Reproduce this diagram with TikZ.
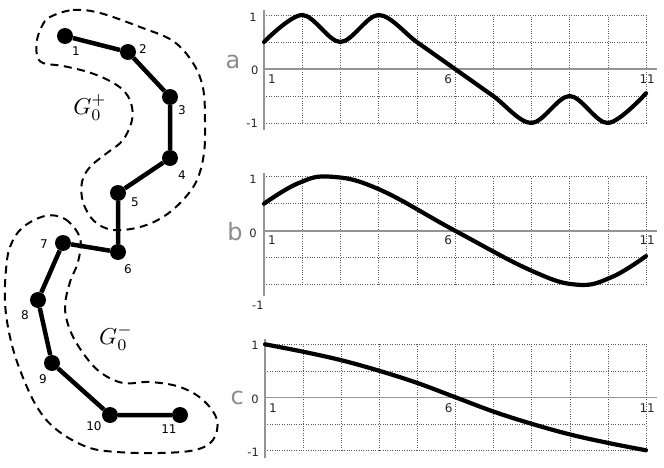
\documentclass[tikz,border=0pt]{standalone}
\usepackage{fontspec}
\setsansfont{DejaVu Sans}
\begin{document}
\begin{tikzpicture}[x=1pt,y=-1pt,
  dot/.style={circle,fill=black,inner sep=0pt,minimum size=16pt},
  edge/.style={line width=4.5pt},
  blob/.style={line width=2pt,dash pattern=on 8pt off 5.5pt},
  lbl/.style={font=\sffamily\fontsize{12}{12}\selectfont,inner sep=0pt},
  axis/.style={line width=1.6pt,draw=black!42},
  gridl/.style={line width=0.6pt,draw=black!65,dash pattern=on 0.8pt off 1.6pt},
  curve/.style={line width=4.2pt,line cap=round,line join=round},
  ylab/.style={font=\sffamily\fontsize{11.5}{11.5}\selectfont,text=black!85,inner sep=0pt},
  xlab/.style={font=\sffamily\fontsize{12}{12}\selectfont,text=black!85,inner sep=0pt},
  panel/.style={font=\sffamily\fontsize{24}{24}\selectfont,text=black!45,inner sep=0pt},
  glab/.style={scale=2.3,inner sep=0pt}]
\useasboundingbox (0,0) rectangle (664,468);
% dashed regions
\draw[blob] plot[smooth cycle,tension=0.6] coordinates {
 (50,17) (73,10) (100,13) (140,27) (173,41) (193,63) (203,88) (205,120) (204,153)
 (197,180) (183,200) (163,217) (140,227) (113,230) (94,221) (83,202) (82,182)
 (90,167) (107,153) (123,140) (132,120) (131,103) (123,90) (108,80) (88,72)
 (63,66) (43,63) (37,55) (37,40) (42,26)};
\draw[blob] plot[smooth cycle,tension=0.6] coordinates {
 (45,216) (65,219) (80,238) (78,262) (70,282) (65,307) (70,330) (83,353)
 (100,372) (123,383) (150,382) (180,387) (203,400) (217,420) (213,440)
 (195,450) (160,453) (117,452) (87,447) (57,430) (37,407) (20,370) (10,337)
 (5,303) (6,270) (10,247) (22,228)};
\node[glab] (gp) at (90,108) {$G_0^+$};
\node[glab] (gm) at (116,338) {$G_0^-$};
% graph
\node[dot] (n1) at (65,36) {};
\node[dot] (n2) at (128,52) {};
\node[dot] (n3) at (170,97) {};
\node[dot] (n4) at (170,158) {};
\node[dot] (n5) at (118,193) {};
\node[dot] (n6) at (118,252) {};
\node[dot] (n7) at (63,243) {};
\node[dot] (n8) at (38,300) {};
\node[dot] (n9) at (52,363) {};
\node[dot] (n10) at (110,415) {};
\node[dot] (n11) at (180,415) {};
\draw[edge] (n1)--(n2)--(n3)--(n4)--(n5)--(n6)--(n7)--(n8)--(n9)--(n10)--(n11);
\node[lbl] (l1) at (76,51) {1};
\node[lbl] (l2) at (143,49) {2};
\node[lbl] (l3) at (182,110) {3};
\node[lbl] (l4) at (182,175) {4};
\node[lbl] (l5) at (135,202) {5};
\node[lbl] (l6) at (128,269) {6};
\node[lbl] (l7) at (44,244) {7};
\node[lbl] (l8) at (25,315) {8};
\node[lbl] (l9) at (43,379) {9};
\node[lbl] (l10) at (94,426) {10};
\node[lbl] (l11) at (169,429) {11};
% panel a
\begin{scope}[shift={(264,69)},x=38.2pt,y=54pt]
 \foreach \v in {1,0.5,-0.5,-1} \draw[gridl] (0,\v) -- (10,\v);
 \foreach \c in {1,...,10} \draw[gridl] (\c,-1) -- (\c,1);
 \draw[axis] (0,1.1) -- (0,-1.13);
 \draw[axis] (0,0) -- (10.3,0);
 \draw[curve] plot[smooth,tension=0.55] coordinates {(0,0.5) (1,1) (2,0.5) (3,1) (4,0.5) (5,0) (6,-0.5) (7,-1) (8,-0.5) (9,-1) (10,-0.45)};
 \node[ylab] (ay1) at (-0.29,0.96) {1};
 \node[ylab] (ay0) at (-0.24,-0.02) {0};
 \node[ylab] (aym) at (-0.31,-1.0) {-1};
 \node[panel] (pa) at (-0.81,0.13) {a};
 \node[xlab] (ax1) at (0.21,-0.19) {1};
 \node[xlab] (ax6) at (4.82,-0.19) {6};
 \node[xlab] (ax11) at (10.03,-0.19) {11};
\end{scope}
% panel b
\begin{scope}[shift={(264,230.7)},x=38.2pt,y=54pt]
 \foreach \v in {1,0.5,-0.5,-1} \draw[gridl] (0,\v) -- (10,\v);
 \foreach \c in {1,...,10} \draw[gridl] (\c,-1) -- (\c,1);
 \draw[axis] (0,1.07) -- (0,-1.2);
 \draw[axis] (0,0) -- (10.3,0);
 \draw[curve] plot[smooth,tension=0.7] coordinates {(0,0.5) (0.9,0.88) (1.75,1) (3,0.77) (5,0) (7,-0.74) (8.2,-1) (9.1,-0.86) (10,-0.47)};
 \node[ylab] (by1) at (-0.29,0.96) {1};
 \node[ylab] (by0) at (-0.29,-0.04) {0};
 \node[ylab] (bym) at (-0.16,-1.38) {-1};
 \node[panel] (pb) at (-0.76,-0.02) {b};
 \node[xlab] (bx1) at (0.21,-0.17) {1};
 \node[xlab] (bx6) at (4.82,-0.17) {6};
 \node[xlab] (bx11) at (10.03,-0.17) {11};
\end{scope}
% panel c
\begin{scope}[shift={(265,397.3)},x=38.1pt,y=53pt]
 \foreach \v in {1,0.5,-0.5,-1} \draw[gridl] (0,\v) -- (10,\v);
 \foreach \c in {1,...,10} \draw[gridl] (\c,-1) -- (\c,1);
 \draw[axis] (0,1.1) -- (0,-1.14);
 \draw[axis] (0,0) -- (10.3,0);
 \draw[curve] plot[smooth,tension=0.6] coordinates {(0,1) (1,0.86) (2,0.7) (3,0.5) (4,0.27) (5,0) (6,-0.27) (7,-0.5) (8,-0.7) (9,-0.86) (10,-1)};
 \node[ylab] (cy1) at (-0.26,0.99) {1};
 \node[ylab] (cy0) at (-0.26,-0.03) {0};
 \node[ylab] (cym) at (-0.31,-1.03) {-1};
 \node[panel] (pc) at (-0.73,-0.01) {c};
 \node[xlab] (cx1) at (0.21,-0.2) {1};
 \node[xlab] (cx6) at (4.82,-0.2) {6};
 \node[xlab] (cx11) at (10.03,-0.2) {11};
\end{scope}
\end{tikzpicture}
\end{document}
